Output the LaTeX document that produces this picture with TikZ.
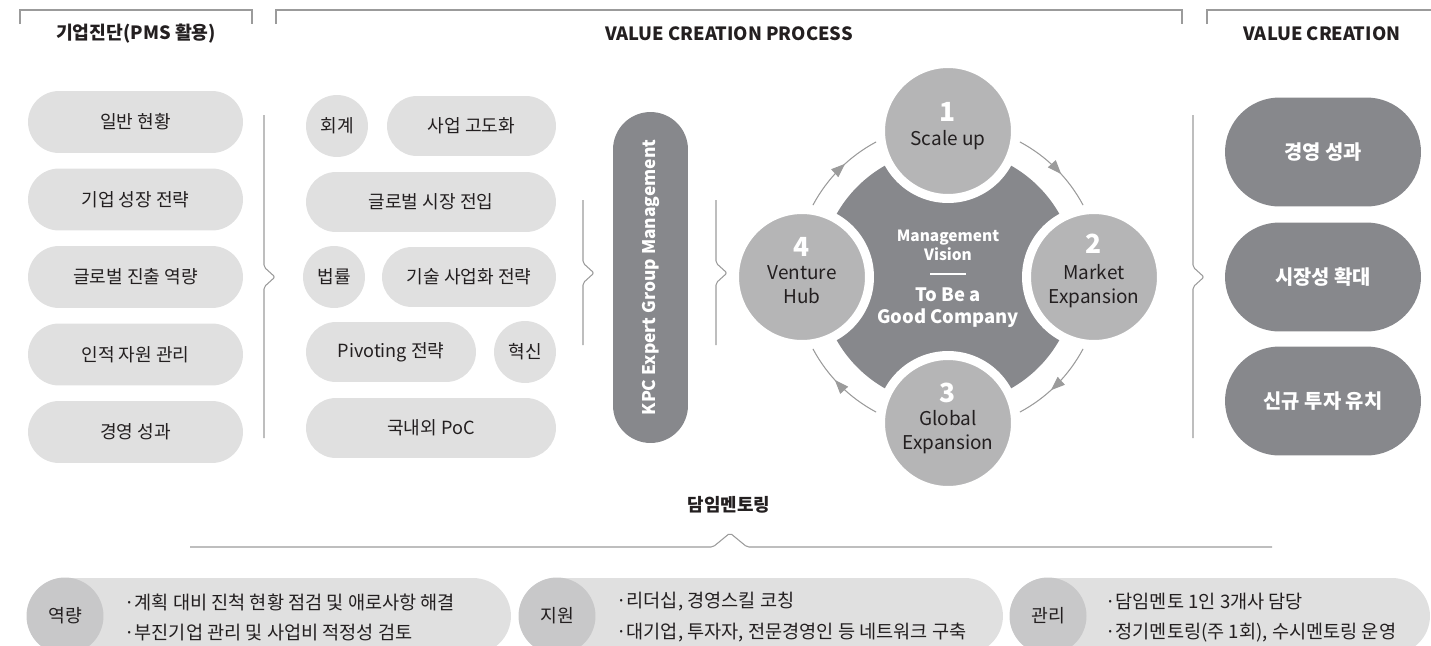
\documentclass[tikz,border=0pt]{standalone}
\usepackage{fontspec}
\setmainfont{Noto Sans CJK KR}
\usetikzlibrary{arrows.meta,decorations.markings}

\definecolor{pillgray}{RGB}{224,224,224}
\definecolor{kpcgray}{RGB}{135,136,140}
\definecolor{cyclegray}{RGB}{181,181,182}
\definecolor{taggray}{RGB}{200,200,201}
\definecolor{rulegray}{RGB}{155,155,155}
\definecolor{inkgray}{RGB}{35,31,32}

\tikzset{
  pill/.style 2 args={rectangle, fill=pillgray, text=inkgray, inner sep=0pt,
    minimum width=#1cm, minimum height=#2cm, rounded corners=#2cm/2,
    font=\fontsize{10.3}{12}\selectfont},
  chip/.style={circle, fill=pillgray, text=inkgray, inner sep=0pt,
    minimum size=1.24cm, font=\fontsize{10.3}{12}\selectfont},
  darkpill/.style={fill=kpcgray, text=white, font=\fontsize{11.3}{13}\selectfont\bfseries},
  head/.style={text=inkgray, font=\fontsize{10.4}{13}\selectfont\bfseries},
  stage/.style={circle, fill=cyclegray, draw=white, line width=0.18cm,
    inner sep=0pt, minimum size=2.7cm},
  stagenum/.style={text=white, font=\fontsize{15}{17}\selectfont\bfseries},
  stagetxt/.style={text=inkgray, align=center, font=\fontsize{10.8}{13.6}\selectfont},
  bracket/.style={draw=rulegray, line width=0.8pt},
  brace/.style={draw=rulegray, line width=0.6pt, rounded corners=0.04cm},
  cyclearc/.style={draw=rulegray, line width=0.6pt, postaction={decorate},
    decoration={markings, mark=at position 0.58 with
      {\arrow[rulegray]{Triangle[length=2.8mm,width=2.1mm]}}}},
  tag/.style={circle, fill=taggray, text=inkgray, inner sep=0pt,
    minimum size=1.54cm, font=\fontsize{10.4}{12}\selectfont},
  note/.style={anchor=west, text=inkgray, font=\fontsize{10.6}{12}\selectfont}
}

\begin{document}
\begin{tikzpicture}[x=0.02cm, y=-0.02cm]
  \clip (0,0) rectangle (1431,646);

  % top brackets
  \draw[bracket] (20,24) -- (20,10) -- (252,10) -- (252,24);
  \draw[bracket] (276,24) -- (276,10) -- (1182,10) -- (1182,24);
  \draw[bracket] (1207,24) -- (1207,10) -- (1440,10);

  % headings
  \node[head] (hdiag) at (136,34) {기업진단(PMS 활용)};
  \node[head] (hproc) at (729,34) {VALUE CREATION PROCESS};
  \node[head] (hval) at (1322,34) {VALUE CREATION};

  % diagnosis column
  \foreach \t [count=\i] in {일반 현황, 기업 성장 전략, 글로벌 진출 역량, 인적 자원 관리, 경영 성과}
    \node[pill={4.3}{1.24}] (diag\i) at (135.5,{44.5+77.5*\i}) {\t};

  % consulting fields
  \node[chip] (acct) at (337,126) {회계};
  \node[pill={3.38}{1.2}] (upgr) at (471.5,126) {사업 고도화};
  \node[pill={5.0}{1.2}] (glob) at (431,202) {글로벌 시장 전입};
  \node[chip] (law) at (334,277) {법률};
  \node[pill={3.48}{1.2}] (tech) at (469,277) {기술 사업화 전략};
  \node[pill={3.4}{1.2}] (pivot) at (391,352) {Pivoting 전략};
  \node[chip] (innov) at (525,352) {혁신};
  \node[pill={5.0}{1.2}] (poc) at (431,428) {국내외 PoC};

  % expert group
  \node[pill={6.62}{1.5}, darkpill, rotate=90, font=\fontsize{9.9}{12}\selectfont\bfseries]
    (kpc) at (650.5,277.5) {KPC Expert Group Management};

  % braces
  \foreach \bx/\by/\bt/\bb in {264/277/115/438, 583/273/200/345, 716/273/200/345, 1193/277/115/438}
    \draw[brace] (\bx,\bt) -- (\bx,\by-10) -- (\bx+11,\by) -- (\bx,\by+10) -- (\bx,\bb);

  % value creation cycle
  \coordinate (hub) at (948,277);
  \foreach \q in {-62,28,118,208}
    \draw[cyclearc] ([shift={(\q:153)}]hub) arc[start angle=\q, end angle=\q+34, radius=153];
  \node[circle, fill=kpcgray, inner sep=0pt, minimum size=5.12cm] (vision) at (hub) {};
  \node[stage] (s1) at (948,131) {};
  \node[stage] (s2) at (1094,277) {};
  \node[stage] (s3) at (948,423) {};
  \node[stage] (s4) at (802,277) {};
  \node[stagenum] (s1n) at (948,112) {1};
  \node[stagetxt] (s1t) at (948,140) {Scale up};
  \node[stagenum] (s2n) at (1094,244) {2};
  \node[stagetxt] (s2t) at (1094,286) {Market\\Expansion};
  \node[stagenum] (s3n) at (948,393) {3};
  \node[stagetxt] (s3t) at (948,432) {Global\\Expansion};
  \node[stagenum] (s4n) at (802,247) {4};
  \node[stagetxt] (s4t) at (802,285) {Venture\\Hub};
  \node[text=white, align=center, font=\fontsize{8.8}{10.8}\selectfont\bfseries] (mv) at (948,245) {Management\\Vision};
  \draw[white, line width=0.6pt] (930,274) -- (966,274);
  \node[text=white, align=center, font=\fontsize{10.5}{12.5}\selectfont\bfseries] (goal) at (948,308) {To Be a\\Good Company};

  % value creation results
  \foreach \t/\y [count=\i] in {경영 성과/152, 시장성 확대/277, 신규 투자 유치/401}
    \node[pill={3.92}{2.18}, darkpill] (gain\i) at (1323,\y) {\t};

  % mentoring
  \node[head, font=\fontsize{10.2}{12}\selectfont\bfseries] (mentor) at (729,505) {담임멘토링};
  \draw[brace] (190,547) -- (713,547) -- (730,533) -- (747,547) -- (1272,547);

  \node[pill={9.68}{1.52}] (mp1) at (269,616) {};
  \node[pill={9.68}{1.52}] (mp2) at (761,616) {};
  \node[pill={8.4}{1.52}] (mp3) at (1220,616) {};
  \node[tag] (tag1) at (65,616) {역량};
  \node[tag] (tag2) at (557,616) {지원};
  \node[tag] (tag3) at (1048,616) {관리};
  \node[note] (n1a) at (118,602) {·계획 대비 진척 현황 점검 및 애로사항 해결};
  \node[note] (n1b) at (118,633) {·부진기업 관리 및 사업비 적정성 검토};
  \node[note] (n2a) at (610,602) {·리더십, 경영스킬 코칭};
  \node[note] (n2b) at (610,633) {·대기업, 투자자, 전문경영인 등 네트워크 구축};
  \node[note] (n3a) at (1099,602) {·담임멘토 1인 3개사 담당};
  \node[note] (n3b) at (1099,633) {·정기멘토링(주 1회), 수시멘토링 운영};
\end{tikzpicture}
\end{document}
